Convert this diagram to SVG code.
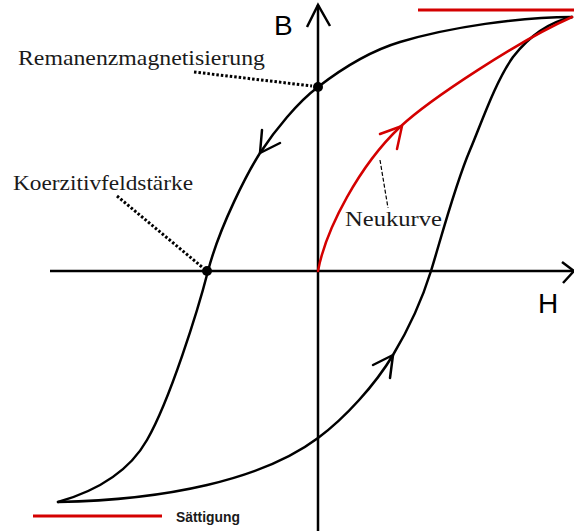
<svg xmlns="http://www.w3.org/2000/svg" width="574" height="531" viewBox="0 0 574 531">
<style>
.ax{stroke:#000;stroke-width:2.5;fill:none}
.crv{stroke:#000;stroke-width:2.5;fill:none;stroke-linecap:round;stroke-linejoin:round}
.red{stroke:#d40000;stroke-width:2.5;fill:none;stroke-linecap:round;stroke-linejoin:round}
.dot{stroke:#000;stroke-width:3;stroke-dasharray:2.5,2;fill:none}
.lbl{font-family:"Liberation Serif","Times New Roman",serif;font-size:21px;fill:#1a1a1a}
.axl{font-family:"Liberation Sans",Arial,sans-serif;font-size:28px;fill:#000}
</style>
<rect width="574" height="531" fill="#fff"/>
<g id="axes">
<line class="ax" x1="318" y1="5" x2="318" y2="531"/>
<polyline class="ax" points="307,27 318,5 330,26"/>
<line class="ax" x1="50" y1="271" x2="574" y2="271"/>
<polyline class="ax" points="562,262 574,271 563,283"/>
<text class="axl" x="274" y="35">B</text>
<text class="axl" x="538" y="313">H</text>
</g>
<g id="saturation">
<line x1="418" y1="10" x2="574" y2="10" stroke="#d40000" stroke-width="3"/>
<line x1="33" y1="516" x2="162" y2="516" stroke="#d40000" stroke-width="3"/>
<text x="176" y="522" font-family="'Liberation Sans',Arial,sans-serif" font-size="15" font-weight="bold" fill="#1a1a1a" textLength="64" lengthAdjust="spacingAndGlyphs">Sättigung</text>
</g>
<g id="connectors">
<path id="upper-branch" class="crv" d="M572,17 C520,17 450,27 400,42 C370,51 340,70 318,87 C298,102 275,130 260,153 C248,172 220,225 208,271 C198,310 170,400 147,440 C130,470 100,490 58,502"/>
<path id="lower-branch" class="crv" d="M58,502 C165,500 262,480 318,438 C345,418 375,385 393,355 C408,330 422,300 431,271 C440,242 455,185 470,150 C480,127 495,82 513,57 C530,35 550,22 572,17"/>
<polyline class="crv" points="262,130 260,153 280,143"/>
<polyline class="crv" points="373,365 393,355 390,378"/>
<path id="neukurve" class="red" d="M318,271 C326,228 360,165 400,127 C430,99 520,40 572,17"/>
<polyline class="red" points="380,134 402,126 397,149"/>
<line class="dot" x1="194" y1="72" x2="312" y2="86"/>
<line class="dot" x1="117" y1="196" x2="202" y2="267"/>
<line x1="380" y1="160" x2="388" y2="208" stroke="#000" stroke-width="1.2" stroke-dasharray="4,2"/>
</g>
<g id="remanenz">
<circle cx="318" cy="87" r="5" fill="#000"/>
<text class="lbl" x="18" y="65" textLength="247" lengthAdjust="spacingAndGlyphs">Remanenzmagnetisierung</text>
</g>
<g id="koerzitiv">
<circle cx="207" cy="271" r="5" fill="#000"/>
<text class="lbl" x="13" y="190" textLength="180" lengthAdjust="spacingAndGlyphs">Koerzitivfeldstärke</text>
</g>
<g id="neukurve-label">
<text class="lbl" x="345" y="226" font-size="20" textLength="97" lengthAdjust="spacingAndGlyphs">Neukurve</text>
</g>
</svg>
